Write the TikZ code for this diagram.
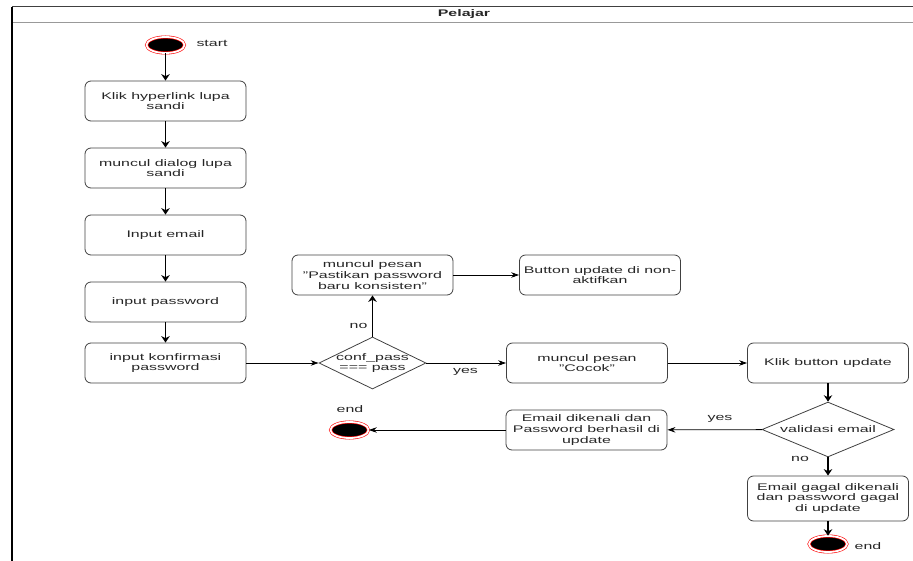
\documentclass[tikz,border=0pt]{standalone}
\usepackage{fontspec}
\setmainfont[FakeStretch=1.66]{Liberation Sans}
\usetikzlibrary{shapes.geometric,arrows.meta}

\begin{document}
\begin{tikzpicture}[x=1pt,y=-1pt,
  font=\fontsize{9.6}{10.6}\selectfont,
  act/.style={draw=black!75, line width=0.8pt, rounded corners=6pt, minimum width=161pt, minimum height=40pt, align=center, inner sep=1pt, text=black!85},
  cek/.style={draw=black!75, line width=0.8pt, diamond, aspect=2, align=center, text=black!85},
  titik/.style={ellipse, draw=red, fill=black, double=white, double distance=1.8pt, line width=0.6pt, minimum width=38pt, minimum height=16pt},
  panah/.style={-{Stealth[length=8pt,width=5.5pt]}, line width=0.8pt},
  panahv/.style={-{Stealth[length=6.5pt,width=8.5pt]}, line width=1.3pt},
  ket/.style={text=black!85}]
%\draw [help lines] (0,0) grid (913,561);
\useasboundingbox (0,0) rectangle (913,561);
\draw [black!75, line width=1pt] (12,7) -- (913,7);
\draw [black!40, line width=1.8pt] (12,22.5) -- (913,22.5);
\draw [black, line width=1.5pt] (12,7) -- (12,561);
\node [ket, font=\fontsize{9.6}{10.6}\selectfont\bfseries] (judul) at (464,14.5) {Pelajar};
\node [titik] (mulai) at (165.5,45) {};
\node [ket] (lmulai) at (212,43) {start};
\node [act] (klik) at (165.5,101) {Klik hyperlink lupa\\sandi};
\node [act] (dialog) at (165.5,168) {muncul dialog lupa\\sandi};
\node [act] (email) at (165.5,235) {Input email};
\node [act] (pass) at (165.5,302) {input password};
\node [act] (konf) at (165.5,363) {input konfirmasi\\password};
\node [cek, minimum width=107pt, minimum height=52pt, inner sep=-3pt] (cekpass) at (372.5,363) {conf\_pass\\=== pass};
\node [act] (pesan) at (372.5,275) {muncul pesan\\"Pastikan password\\baru konsisten"};
\node [act] (nonaktif) at (600,275) {Button update di non-\\aktifkan};
\node [act] (cocok) at (587,363) {muncul pesan\\"Cocok"};
\node [act] (tombol) at (828,363) {Klik button update};
\node [cek, minimum width=132pt, minimum height=53pt, inner sep=0pt] (validasi) at (828,429.5) {validasi email};
\node [act] (berhasil) at (586.5,430) {Email dikenali dan\\Password berhasil di\\update};
\node [act, minimum height=45pt] (gagal) at (828,498.5) {Email gagal dikenali\\dan password gagal\\di update};
\node [titik] (selesai) at (349.5,430) {};
\node [ket] (lselesai) at (350,409) {end};
\node [titik] (akhir) at (828,544) {};
\node [ket] (lakhir) at (868,546) {end};
\node [ket] (tidak1) at (358.5,326) {no};
\node [ket] (ya1) at (465.5,372) {yes};
\node [ket] (ya2) at (720,419) {yes};
\node [ket] (tidak2) at (800,459) {no};
\draw [panahv] (mulai) -- (klik);
\draw [panahv] (klik) -- (dialog);
\draw [panahv] (dialog) -- (email);
\draw [panahv] (email) -- (pass);
\draw [panahv] (pass) -- (konf);
\draw [panah] (konf) -- (cekpass);
\draw [panahv] (cekpass) -- (pesan);
\draw [panah] (pesan) -- (nonaktif);
\draw [panah] (cekpass) -- (cocok);
\draw [panah] (cocok) -- (tombol);
\draw [panahv] (tombol) -- (validasi);
\draw [panah] (validasi) -- (berhasil);
\draw [panah] (berhasil) -- (selesai);
\draw [panahv] (validasi) -- (gagal);
\draw [panahv] (gagal) -- (akhir);
\end{tikzpicture}
\end{document}
